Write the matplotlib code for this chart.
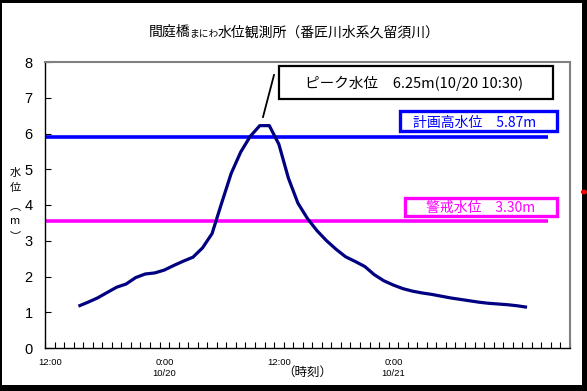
import matplotlib
matplotlib.use("Agg")
import matplotlib.pyplot as plt
from matplotlib.patches import Rectangle
from matplotlib.lines import Line2D

plt.rcParams['font.family'] = ['Noto Sans CJK JP', 'DejaVu Sans']

# ---- data (hours from 10/19 12:00, hourly) ----
hours = list(range(3, 51))
level = [1.17, 1.28, 1.40, 1.55, 1.70, 1.79, 1.97, 2.07, 2.10, 2.18,
         2.31, 2.43, 2.54, 2.80, 3.20, 4.05, 4.88, 5.48, 5.92, 6.22,
         6.22, 5.70, 4.75, 4.05, 3.62, 3.28, 3.00, 2.76, 2.55, 2.42,
         2.28, 2.05, 1.88, 1.76, 1.66, 1.59, 1.54, 1.50, 1.45, 1.40,
         1.36, 1.32, 1.28, 1.25, 1.23, 1.21, 1.18, 1.14]
plan_level = 5.90      # drawn position of 計画高水位 line
warn_level = 3.55      # drawn position of 警戒水位 line
ref_span = [0, 52.7]   # hours covered by the reference lines
tick_label_hours = [0, 12, 24, 36]
tick_labels = ["12:00", "0:00\n10/20", "12:00", "0:00\n10/21"]
x_end = 55
y_ticks = [0, 1, 2, 3, 4, 5, 6, 7, 8]

W, H = 587, 391
fig = plt.figure(figsize=(W / 100, H / 100), dpi=100)


def fx(x):
    return x / W


def fy(y):
    return 1 - y / H


ax = fig.add_axes([fx(45), fy(348), (570 - 45) / W, (348 - 62) / H])

# category-centred positions
xs = [h + 0.5 for h in hours]
ax.plot(xs, level, color='#000080', lw=2.3, solid_capstyle='butt', zorder=3)
ax.plot(ref_span, [plan_level, plan_level], color='#0000FF', lw=2.6, zorder=2,
        solid_capstyle='butt')
ax.plot(ref_span, [warn_level, warn_level], color='#FF00FF', lw=2.6, zorder=2,
        solid_capstyle='butt')

ax.set_xlim(0, x_end)
ax.set_ylim(0, 8)
ax.set_yticks(y_ticks)
ax.set_yticklabels([str(v) for v in y_ticks], fontsize=10.5, family='Liberation Sans')
ax.tick_params(axis='y', direction='in', length=4, width=0.8, pad=9)

ax.set_xticks(range(0, x_end + 1), minor=True)
ax.set_xticks([h + 0.5 for h in tick_label_hours])
ax.set_xticklabels(tick_labels, fontsize=6.8, family='Liberation Sans',
                   linespacing=1.35)
ax.tick_params(axis='x', which='major', length=0, pad=7)
ax.tick_params(axis='x', which='minor', direction='in', length=4, width=0.8)

for s in ['top', 'right']:
    ax.spines[s].set_color('#808080')
    ax.spines[s].set_linewidth(1.5)
for s in ['left', 'bottom']:
    ax.spines[s].set_color('black')
    ax.spines[s].set_linewidth(1.0)

# ---- title ----
fig.text(fx(190), fy(32), "間庭橋", ha='right', va='center', fontsize=10)
fig.text(fx(204), fy(33), "まにわ", ha='center', va='center', fontsize=7)
fig.text(fx(218), fy(32), "水位観測所（番匠川水系久留須川）", ha='left', va='center',
         fontsize=10)

# ---- y label (vertical) ----
for ch, yy in zip(["水", "位", "︵", "m", "︶"], [173, 188, 206, 221, 236]):
    fig.text(fx(15), fy(yy), ch, ha='center', va='center', fontsize=8)

fig.text(fx(307), fy(372), "（時刻）", ha='center', va='center', fontsize=9)

# ---- annotation boxes ----
def box(x0, y0, x1, y1, color, lw):
    fig.patches.append(Rectangle((fx(x0), fy(y1)), fx(x1) - fx(x0), fy(y0) - fy(y1),
                                 transform=fig.transFigure, fill=True, facecolor='white',
                                 edgecolor=color, lw=lw, zorder=5))

box(279, 66, 553, 99, 'black', 1.6)
fig.text(fx(414), fy(83), "ピーク水位　6.25m(10/20 10:30)", ha='center', va='center',
         fontsize=10.5, color='black', zorder=6)
fig.lines.append(Line2D([fx(274), fx(263)], [fy(75), fy(117)], transform=fig.transFigure,
                        color='black', lw=1.3, zorder=6))

box(400, 111, 557, 131, '#0000FF', 2.4)
fig.text(fx(475), fy(123), "計画高水位　5.87m", ha='center', va='center',
         fontsize=10, color='#0000FF', zorder=6)

box(405, 198, 557, 216, '#FF00FF', 2.4)
fig.text(fx(481), fy(208), "警戒水位　3.30m", ha='center', va='center',
         fontsize=10, color='#FF00FF', zorder=6)

# ---- outer frame ----
for (x0, y0, x1, y1) in [(0, 0, 2, 391), (0, 0, 587, 2.5), (582, 0, 587, 391),
                         (0, 385, 587, 391)]:
    fig.patches.append(Rectangle((fx(x0), fy(y1)), fx(x1) - fx(x0), fy(y0) - fy(y1),
                                 transform=fig.transFigure, color='black', lw=0, zorder=7))
fig.patches.append(plt.Circle((fx(584), fy(192)), 2.5 / W, transform=fig.transFigure,
                              color='red', zorder=8))

fig.savefig("out.png", dpi=100)
